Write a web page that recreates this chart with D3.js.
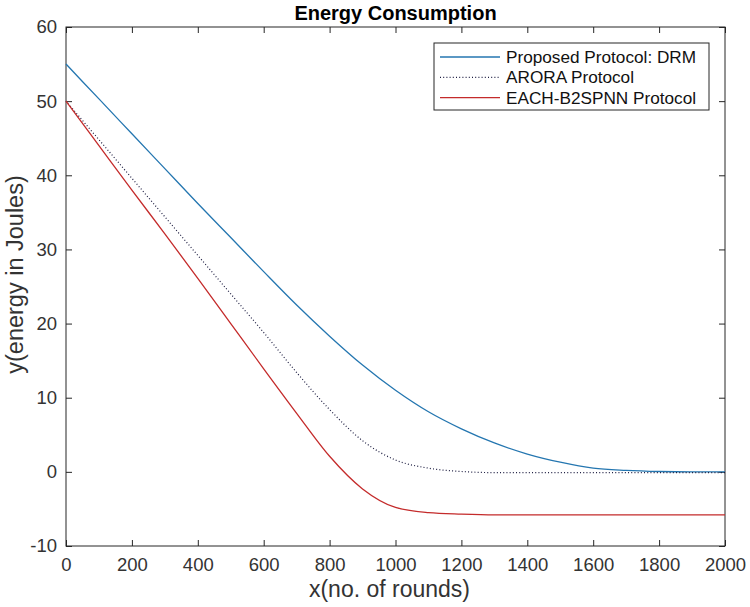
<!DOCTYPE html>
<html>
<head>
<meta charset="utf-8">
<script src="https://cdn.jsdelivr.net/npm/d3@7"></script>
<style>
  body { margin: 0; background: #fff; }
  svg { display: block; font-family: "Liberation Sans", Arial, sans-serif; }
</style>
</head>
<body>
<svg id="chart" width="750" height="607"></svg>
<script>
// rounds, read every 100
const rounds = [0, 100, 200, 300, 400, 500, 600, 700, 800, 900, 1000,
                1100, 1200, 1300, 1400, 1500, 1600, 1700, 1800, 1900, 2000];
const drmValues   = [55, 50.3, 45.6, 40.9, 36.2, 31.6, 27.0, 22.5, 18.3, 14.4, 11.0,
                     8.1, 5.8, 3.9, 2.4, 1.3, 0.5, 0.2, 0.05, 0, 0];
const aroraValues = [50, 44.8, 39.6, 34.4, 29.2, 24.0, 18.8, 13.4, 8.4, 4.2, 1.6,
                     0.5, 0.05, -0.1, -0.1, -0.1, -0.1, -0.1, -0.1, -0.1, -0.1];
const eachValues  = [50, 44.0, 38.0, 32.1, 26.1, 20.0, 13.9, 7.9, 2.1, -2.3, -4.8,
                     -5.5, -5.7, -5.8, -5.8, -5.8, -5.8, -5.8, -5.8, -5.8, -5.8];
const xTicks = [0, 200, 400, 600, 800, 1000, 1200, 1400, 1600, 1800, 2000];
const yTicks = [-10, 0, 10, 20, 30, 40, 50, 60];
const seriesNames = ["Proposed Protocol: DRM", "ARORA Protocol", "EACH-B2SPNN Protocol"];

const svg = d3.select("#chart");
const margin = { left: 66, right: 25, top: 27, bottom: 61 };
const W = 750, H = 607;
const axisColor = "#262626";
const labelColor = "#333";

const x = d3.scaleLinear().domain([0, 2000]).range([margin.left, W - margin.right]);
const y = d3.scaleLinear().domain([-10, 60]).range([H - margin.bottom, margin.top]);

// box
svg.append("rect")
    .attr("x", x(0)).attr("y", y(60))
    .attr("width", x(2000) - x(0)).attr("height", y(-10) - y(60))
    .attr("fill", "#fff").attr("stroke", axisColor).attr("stroke-width", 1);

const styleAxis = g => {
    g.select(".domain").remove();
    g.selectAll(".tick line").attr("stroke", axisColor);
    g.selectAll(".tick text").attr("fill", labelColor).style("font-size", "18.5px");
};

svg.append("g")
    .attr("transform", `translate(0,${y(-10)})`)
    .call(d3.axisBottom(x).tickValues(xTicks).tickSize(-6).tickPadding(12).tickFormat(d => String(d)))
    .call(styleAxis);
svg.append("g")
    .attr("transform", `translate(0,${y(60)})`)
    .call(d3.axisTop(x).tickValues(xTicks).tickSize(-6).tickFormat(""))
    .call(styleAxis);
svg.append("g")
    .attr("transform", `translate(${x(0)},0)`)
    .call(d3.axisLeft(y).tickValues(yTicks).tickSize(-6).tickPadding(9).tickFormat(d => String(d)))
    .call(styleAxis);
svg.append("g")
    .attr("transform", `translate(${x(2000)},0)`)
    .call(d3.axisRight(y).tickValues(yTicks).tickSize(-6).tickFormat(""))
    .call(styleAxis);

// lines
const line = vals => d3.line()
    .x((d, i) => x(rounds[i]))
    .y(d => y(d))
    .curve(d3.curveMonotoneX)(vals);

const series = [
    { name: seriesNames[0], values: drmValues, color: "#2476B0", dash: null, width: 1.3 },
    { name: seriesNames[1], values: aroraValues, color: "#1c1c40", dash: "1,2.2", width: 1.2 },
    { name: seriesNames[2], values: eachValues, color: "#C42B2B", dash: null, width: 1.3 }
];

series.forEach(s => {
    svg.append("path")
        .attr("d", line(s.values))
        .attr("fill", "none")
        .attr("stroke", s.color)
        .attr("stroke-width", s.width)
        .attr("stroke-dasharray", s.dash);
});

// legend
const legend = svg.append("g");
legend.append("rect")
    .attr("x", 434).attr("y", 43).attr("width", 275).attr("height", 67)
    .attr("fill", "#fff").attr("stroke", axisColor).attr("stroke-width", 1);
series.forEach((s, i) => {
    const ly = 57 + i * 20.3;
    legend.append("line")
        .attr("x1", 440).attr("x2", 500).attr("y1", ly).attr("y2", ly)
        .attr("stroke", s.color).attr("stroke-width", s.width)
        .attr("stroke-dasharray", s.dash);
    legend.append("text")
        .attr("x", 506).attr("y", ly).attr("dy", "0.35em")
        .attr("fill", "#111")
        .style("font-size", "17.2px")
        .text(s.name);
});

// titles
svg.append("text")
    .attr("x", (x(0) + x(2000)) / 2).attr("y", 20)
    .attr("text-anchor", "middle")
    .style("font-size", "20px").style("font-weight", "bold")
    .attr("fill", "#000")
    .text("Energy Consumption");

svg.append("text")
    .attr("x", (x(0) + x(2000)) / 2 - 6).attr("y", 597)
    .attr("text-anchor", "middle")
    .style("font-size", "23px")
    .attr("fill", labelColor)
    .text("x(no. of rounds)");

svg.append("text")
    .attr("transform", `translate(23,${(y(60) + y(-10)) / 2 - 12}) rotate(-90)`)
    .attr("text-anchor", "middle")
    .style("font-size", "23.5px")
    .attr("fill", labelColor)
    .text("y(energy in Joules)");
</script>
</body>
</html>
